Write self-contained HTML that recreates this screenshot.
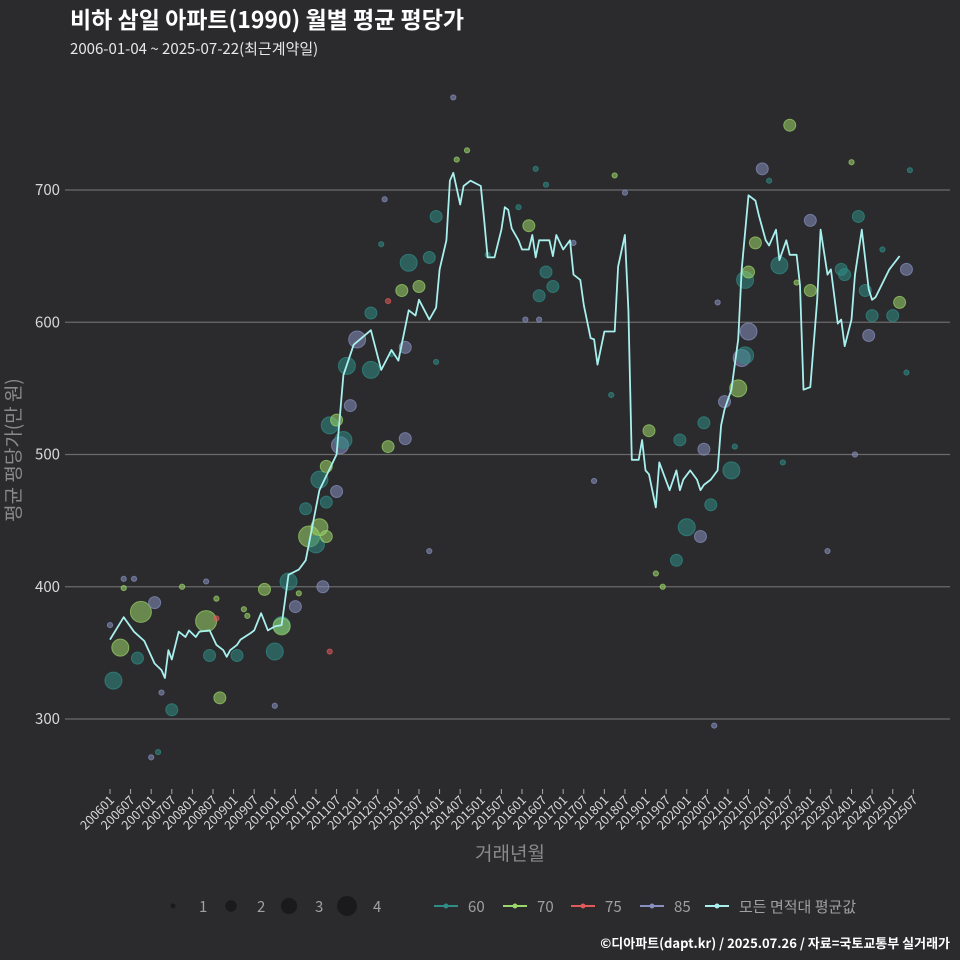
<!DOCTYPE html>
<html><head><meta charset="utf-8">
<style>
html,body{margin:0;padding:0;background:#2b2a2c;}
svg{display:block;font-family:"Noto Sans CJK KR","Liberation Sans",sans-serif;}
</style></head>
<body>
<svg id="chart" width="960" height="960" viewBox="0 0 960 960">
<rect width="960" height="960" fill="#2b2a2c"/>
<text x="70" y="28" fill="#ffffff" font-size="23" font-weight="bold">비하 삼일 아파트(1990) 월별 평균 평당가</text>
<text x="70" y="54" fill="#e8e8e8" font-size="15">2006-01-04 ~ 2025-07-22(최근계약일)</text>
<g id="grid"></g>
<g id="yticks"></g>
<g id="xticks"></g>
<g id="points"></g>
<path id="meanline" fill="none" stroke="#a8f0ee" stroke-width="1.8" stroke-linejoin="round"/>
<text transform="translate(20,450) rotate(-90)" text-anchor="middle" fill="#8a8a8a" font-size="19">평균 평당가(만 원)</text>
<text x="510" y="860" text-anchor="middle" fill="#8a8a8a" font-size="19">거래년월</text>
<g id="legend"></g>
<text x="950" y="948" text-anchor="end" fill="#ffffff" font-size="13" font-weight="bold">©디아파트(dapt.kr) / 2025.07.26 / 자료=국토교통부 실거래가</text>
</svg>
<script>
// ---- data ----
const yTicks = [300, 400, 500, 600, 700];
const xTickLabels = ["200601","200607","200701","200707","200801","200807","200901","200907","201001","201007","201101","201107","201201","201207","201301","201307","201401","201407","201501","201507","201601","201607","201701","201707","201801","201807","201901","201907","202001","202007","202101","202107","202201","202207","202301","202307","202401","202407","202501","202507"];
// months since 2006-01 for mean line samples
const lineMonths = [0,4,7,10,13,15,16,17,18,20,22,23,25,26,29,31,33,34,35,37,38,41,42,44,46,48,50,51,52,55,57,61,66,68,71,76,79,82,84,87,89,90,93,95,96,98,99,100,102,103,105,108,109,110,112,114,115,116,117,119,120,122,123,124,125,128,129,130,132,134,135,137,138,140,141,142,144,147,148,150,151,152,154,155,156,157,159,160,163,165,166,167,169,171,172,173,175,177,178,179,181,183,184,186,188,189,191,192,194,195,197,198,200,201,202,204,206,207,209,210,212,213,214,216,217,219,221,222,223,227,230,233];
const lineValues = [360,377,366,359,342,337,331,352,345,366,362,367,362,366,367,356,352,347,352,356,360,365,367,380,367,370,371,390,409,413,420,473,500,560,583,594,564,579,571,609,605,617,602,611,640,662,707,713,689,703,707,703,677,649,649,670,687,685,671,662,655,655,666,649,662,662,650,666,655,662,636,632,613,588,587,568,593,593,642,666,609,496,496,511,488,485,460,494,473,488,473,481,488,481,473,477,481,488,522,534,549,587,640,696,692,681,662,658,670,647,662,651,651,628,549,551,617,670,636,640,599,602,582,602,636,670,625,617,619,640,650];
// scatter: month, value, count(1-4), area type
const ptMonths = [1,3,9,13,8,18,28,29,32,37,45,48,50,50,54,52,57,58,61,63,60,62,61,63,66,63,64,67,68,66,69,70,76,76,72,81,86,86,85,87,90,93,95,122,125,127,129,157,165,168,172,166,173,173,175,179,181,183,184,185,186,185,186,188,190,195,198,204,204,213,214,218,220,222,228,230,232,221,
 0,4,7,4,12,14,15,21,28,31,31,39,64,48,80,79,81,82,93,95,100,101,104,119,121,125,124,127,147,150,141,146,159,161,176,177,182,192,196,209,216,217,233,232,40,55,110,135,200,225];
const ptValues = [329,354,381,388,346,307,374,348,316,348,398,351,371,370,385,404,459,438,445,438,432,400,481,464,472,491,522,507,511,526,567,537,564,607,587,506,581,512,624,645,627,649,680,673,620,638,627,518,420,445,438,511,524,504,462,540,488,550,573,575,593,632,638,660,716,643,749,677,624,640,636,680,624,605,605,615,640,590,
 371,406,406,399,271,275,320,400,404,391,376,383,351,310,693,659,616,576,427,570,770,723,730,687,602,602,716,704,711,698,480,545,410,400,295,615,506,707,494,427,721,500,715,562,378,395,651,660,630,655];
const ptCounts = [3,3,4,2,2,2,4,2,2,2,2,3,3,3,2,3,2,4,3,2,3,2,3,2,2,2,3,3,3,2,3,2,3,2,3,2,2,2,2,3,2,2,2,2,2,2,2,2,2,3,2,2,2,2,2,2,3,3,3,3,3,3,2,2,2,3,2,2,2,2,2,2,2,2,2,2,2,2,
 1,1,1,1,1,1,1,1,1,1,1,1,1,1,1,1,1,1,1,1,1,1,1,1,1,1,1,1,1,1,1,1,1,1,1,1,1,1,1,1,1,1,1,1,1,1,1,1,1,1];
const ptTypes = ["60","70","70","85","60","60","70","60","70","60","70","60","60","70","85","60","60","70","70","70","60","85","60","60","85","70","60","85","60","70","60","85","60","60","85","70","85","85","70","60","70","60","60","70","60","60","60","70","60","60","85","60","60","85","60","85","60","70","85","60","85","60","70","70","85","60","70","85","70","60","60","60","60","60","60","70","85","85",
 "85","85","85","70","85","60","85","70","85","70","75","70","75","85","85","60","75","60","85","60","85","70","70","60","85","85","60","60","70","85","85","60","70","70","85","85","60","60","60","85","70","85","60","60","70","70","60","85","70","60"];
// ---- scales ----
const X0 = 110, MW = 3.433;
function xs(m){ return X0 + m*MW; }
function ys(v){ return 719 - (v-300)*1.3225; }
const colors = {"60":"#2f8c86","70":"#9bd66a","75":"#e05a5a","85":"#8790c0"};
const radii = [0,2.6,6,8.5,10.5];
const NS = "http://www.w3.org/2000/svg";
function mk(tag, attrs, parent){ const e=document.createElementNS(NS,tag); for(const k in attrs) e.setAttribute(k,attrs[k]); parent.appendChild(e); return e; }
const grid=document.getElementById('grid'), yt=document.getElementById('yticks'), xt=document.getElementById('xticks');
yTicks.forEach(v=>{
  const l=mk('line',{x1:65,x2:950,y1:ys(v),y2:ys(v),stroke:'#6b6b6b','stroke-width':1.2},grid);
  
  
  const t=mk('text',{x:60,y:ys(v)+5,'text-anchor':'end',fill:'#d8d8d8','font-size':15},yt);
  t.textContent=v;
  
  
});
xTickLabels.forEach((lab,i)=>{
  const x=xs(i*6);
  const tk=mk('line',{x1:x,x2:x,y1:789,y2:794,stroke:'#aaaaaa','stroke-width':1},xt);
  
  
  const t=mk('text',{transform:`translate(${x+5},${801}) rotate(-45)`,'text-anchor':'end',fill:'#d8d8d8','font-size':12.5},xt);
  t.textContent=lab;
  
  
});
const pg=document.getElementById('points');
const order=ptCounts.map((c,i)=>i).sort((a,b)=>ptCounts[b]-ptCounts[a]);
order.forEach(i=>{
  const c=colors[ptTypes[i]];
  const p=mk('circle',{cx:xs(ptMonths[i]),cy:ys(ptValues[i]),r:radii[ptCounts[i]],fill:c,'fill-opacity':0.55,stroke:c,'stroke-opacity':0.7,'stroke-width':1},pg);
  
  
});
let d='';
lineMonths.forEach((m,i)=>{ d+=(i?'L':'M')+xs(m).toFixed(1)+','+ys(lineValues[i]).toFixed(1); });
document.getElementById('meanline').setAttribute('d',d);
// legend
const lg=document.getElementById('legend');
[1,2,3,4].forEach((n,i)=>{
  const cx=173+i*58;
  const c=mk('circle',{cx:cx,cy:906,r:radii[n]*0.95,fill:'#1a1a1c'},lg);
  
  
  const t=mk('text',{x:cx+26,y:912,fill:'#a0a0a0','font-size':15},lg);
  t.textContent=n;
  
  
});
const lgItems=[["60","#2f8c86",434],["70","#9bd66a",503],["75","#e05a5a",571],["85","#8790c0",640],["모든 면적대 평균값","#a8f0ee",705]];
lgItems.forEach(([lab,col,x])=>{
  const l=mk('line',{x1:x,x2:x+24,y1:906,y2:906,stroke:col,'stroke-width':2},lg);
  
  
  const c=mk('circle',{cx:x+12,cy:906,r:2.5,fill:col},lg);
  
  
  const t=mk('text',{x:x+34,y:912,fill:'#a0a0a0','font-size':15},lg);
  t.textContent=lab;
  
  
});
</script>
</body></html>
